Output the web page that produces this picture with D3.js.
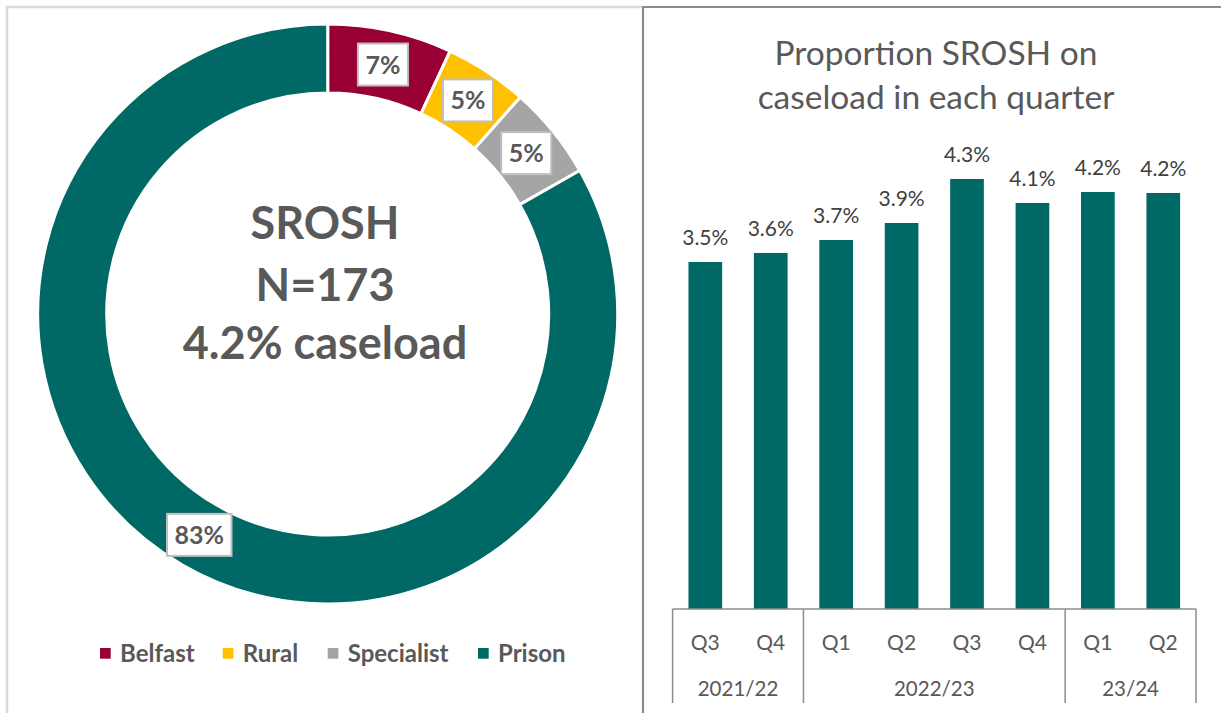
<!DOCTYPE html>
<html>
<head>
<meta charset="utf-8">
<script src="https://cdn.jsdelivr.net/npm/d3@7"></script>
<style>
  html, body { margin: 0; padding: 0; background: #fff; }
  svg { display: block; font-family: Lato, "Open Sans", sans-serif; }
</style>
</head>
<body>
<svg id="chart" width="1221" height="713"></svg>
<script>
// ---------- DATA ----------
const segments = ["Belfast", "Rural", "Specialist", "Prison"];
const segmentCounts = [12, 8, 9, 144];
const segmentColors = ["#990033", "#FFC000", "#A5A5A5", "#006865"];
const centerLines = ["SROSH", "N=173", "4.2% caseload"];

const quarters = ["Q3", "Q4", "Q1", "Q2", "Q3", "Q4", "Q1", "Q2"];
const proportions = [3.47, 3.56, 3.69, 3.86, 4.30, 4.06, 4.17, 4.16];
const yearLabels = ["2021/22", "2022/23", "23/24"];
const yearSpans = [2, 4, 2];
const barTitle = ["Proportion SROSH on", "caseload in each quarter"];

// ---------- SETUP ----------
const svg = d3.select("#chart");
const textGray = "#595959";

// panel borders
svg.append("rect").attr("x", 7).attr("y", 7).attr("width", 636).attr("height", 720)
  .attr("fill", "none").attr("stroke", "#d9d9d9").attr("stroke-width", 2.5);
svg.append("path").attr("d", "M643,720 L643,7 L1230,7")
  .attr("fill", "none").attr("stroke", "#8a8a8a").attr("stroke-width", 2);

// ---------- DONUT ----------
const cx = 327.7, cy = 314, rOuter = 290, rInner = 221;
const total = d3.sum(segmentCounts);
const pie = d3.pie().sort(null).value(d => d)(segmentCounts);
const arc = d3.arc().innerRadius(rInner).outerRadius(rOuter);
const labelArc = d3.arc().innerRadius((rInner + rOuter) / 2).outerRadius((rInner + rOuter) / 2);

const donut = svg.append("g").attr("transform", `translate(${cx},${cy})`);
donut.selectAll("path.slice").data(pie).join("path")
  .attr("class", "slice")
  .attr("d", arc)
  .attr("fill", (d, i) => segmentColors[i])
  .attr("stroke", "#fff").attr("stroke-width", 3);

const lbl = donut.selectAll("g.lbl").data(pie).join("g")
  .attr("class", "lbl")
  .attr("transform", d => `translate(${labelArc.centroid(d)})`);
lbl.append("rect").attr("class", "box");
lbl.append("text")
  .attr("text-anchor", "middle").attr("dy", "0.36em")
  .attr("font-size", 25).attr("font-weight", 700).attr("fill", textGray)
  .text(d => Math.round(d.value / total * 100) + "%");
lbl.each(function () {
  const g = d3.select(this);
  const w = g.select("text").node().getComputedTextLength() + 15;
  g.select("rect").attr("x", -w / 2).attr("y", -21).attr("width", w).attr("height", 42)
    .attr("fill", "#fff").attr("stroke", "#bfbfbf").attr("stroke-width", 2);
});

// centre text
const centerBaselines = [238.5, 300.5, 359];
svg.selectAll("text.center").data(centerLines).join("text")
  .attr("class", "center")
  .attr("x", 325).attr("y", (d, i) => centerBaselines[i])
  .attr("text-anchor", "middle")
  .attr("font-size", 45).attr("font-weight", 700).attr("fill", textGray)
  .text(d => d);

// legend
const legendX = [100, 222.7, 327.7, 478];
const leg = svg.selectAll("g.leg").data(segments).join("g")
  .attr("class", "leg")
  .attr("transform", (d, i) => `translate(${legendX[i]},648)`);
leg.append("rect").attr("width", 10.7).attr("height", 10.7)
  .attr("fill", (d, i) => segmentColors[i]);
leg.append("text").attr("x", 20).attr("y", 13.5)
  .attr("font-size", 24).attr("font-weight", 700).attr("fill", textGray)
  .text(d => d);

// ---------- BAR CHART ----------
const x0 = 672.6, x1 = 1196, yBase = 609;
const x = d3.scaleBand().domain(d3.range(quarters.length)).range([x0, x1]).padding(0);
const y = d3.scaleLinear().domain([0, 5]).range([yBase, 109]);
const barW = x.bandwidth() * 0.515;

svg.selectAll("text.title").data(barTitle).join("text")
  .attr("class", "title")
  .attr("x", 936).attr("y", (d, i) => 65 + i * 44)
  .attr("text-anchor", "middle")
  .attr("font-size", 33.5).attr("fill", textGray)
  .text(d => d);

svg.selectAll("rect.bar").data(proportions).join("rect")
  .attr("class", "bar")
  .attr("x", (d, i) => x(i) + x.bandwidth() / 2 - barW / 2)
  .attr("width", barW)
  .attr("y", d => y(d))
  .attr("height", d => yBase - y(d))
  .attr("fill", "#006865");

const fmt = d3.format(".1f");
svg.selectAll("text.val").data(proportions).join("text")
  .attr("class", "val")
  .attr("x", (d, i) => x(i) + x.bandwidth() / 2)
  .attr("y", d => y(d) - 17)
  .attr("text-anchor", "middle")
  .attr("font-size", 21).attr("fill", "#404040")
  .text(d => fmt(d) + "%");

// category axis (multi-level)
const axisG = svg.append("g");
axisG.append("line").attr("x1", x0).attr("x2", x1).attr("y1", yBase).attr("y2", yBase)
  .attr("stroke", "#8c8c8c").attr("stroke-width", 1.5);
const bounds = [0];
yearSpans.forEach(s => bounds.push(bounds[bounds.length - 1] + s));
axisG.selectAll("line.sep").data(bounds).join("line")
  .attr("class", "sep")
  .attr("x1", b => b < quarters.length ? x(b) : x1)
  .attr("x2", b => b < quarters.length ? x(b) : x1)
  .attr("y1", yBase).attr("y2", 703)
  .attr("stroke", "#8c8c8c").attr("stroke-width", 1.5);

axisG.selectAll("text.q").data(quarters).join("text")
  .attr("class", "q")
  .attr("x", (d, i) => x(i) + x.bandwidth() / 2)
  .attr("y", 650)
  .attr("text-anchor", "middle")
  .attr("font-size", 21).attr("fill", textGray)
  .text(d => d);

axisG.selectAll("text.yr").data(yearLabels).join("text")
  .attr("class", "yr")
  .attr("x", (d, i) => {
    const a = bounds[i], b = bounds[i + 1];
    const left = x(a), right = b < quarters.length ? x(b) : x1;
    return (left + right) / 2;
  })
  .attr("y", 696)
  .attr("text-anchor", "middle")
  .attr("font-size", 20.5).attr("fill", textGray)
  .text(d => d);
</script>
</body>
</html>
